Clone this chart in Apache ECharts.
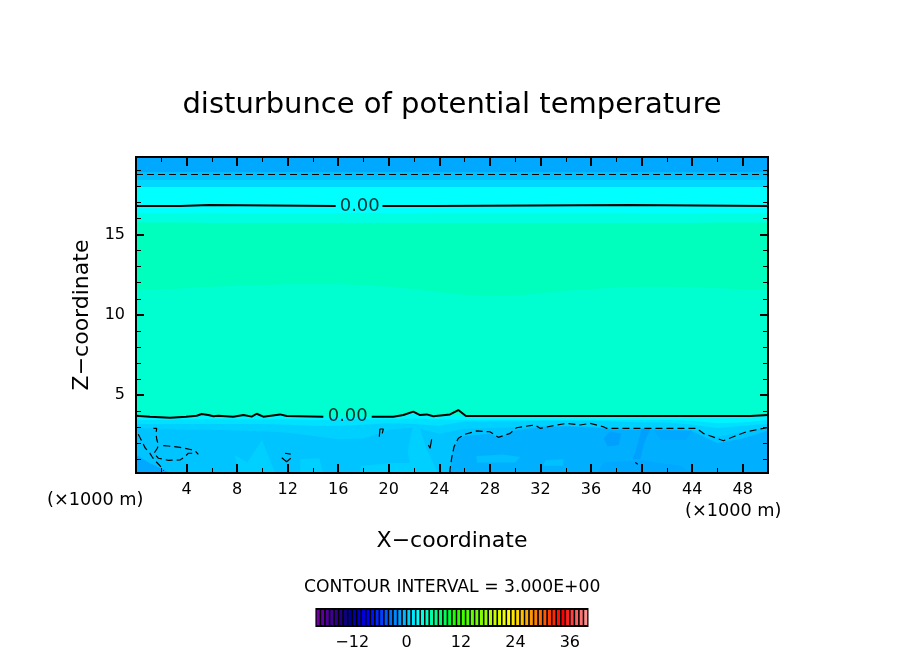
<!DOCTYPE html>
<html>
<head>
<meta charset="utf-8">
<style>html,body{margin:0;padding:0;background:#fff}#chart{width:904px;height:654px}</style>
<script src="https://cdn.jsdelivr.net/npm/echarts@6/dist/echarts.min.js"></script>
</head>
<body>
<div id="chart"></div>
<script>
var xTicksMajor = [4, 8, 12, 16, 20, 24, 28, 32, 36, 40, 44, 48];
var xTicksMinor = [2, 6, 10, 14, 18, 22, 26, 30, 34, 38, 42, 46];
var zTicksMajor = [5, 10, 15];
var zTicksMinor = [1, 2, 3, 4, 6, 7, 8, 9, 11, 12, 13, 14, 16, 17, 18, 19];
var colorbarTicks = [-12, 0, 12, 24, 36];

// band tops, one height every 2 km from x=0 to x=50
var xSamples = [0, 2, 4, 6, 8, 10, 12, 14, 16, 18, 20, 22, 24, 26, 28, 30, 32, 34, 36, 38, 40, 42, 44, 46, 48, 50];
var bandTop     = [19.83, 19.83, 19.83, 19.83, 19.83, 19.83, 19.83, 19.83, 19.83, 19.83, 19.83, 19.83, 19.83, 19.83, 19.83, 19.83, 19.83, 19.83, 19.83, 19.83, 19.83, 19.83, 19.83, 19.83, 19.83, 19.83];
var band18_9    = [18.89, 18.89, 18.89, 18.89, 18.89, 18.89, 18.89, 18.89, 18.89, 18.89, 18.89, 18.89, 18.89, 18.89, 18.89, 18.89, 18.89, 18.89, 18.89, 18.89, 18.89, 18.89, 18.89, 18.89, 18.89, 18.89];
var band18_4    = [18.39, 18.39, 18.39, 18.39, 18.39, 18.39, 18.39, 18.39, 18.39, 18.39, 18.39, 18.39, 18.39, 18.39, 18.39, 18.39, 18.39, 18.39, 18.39, 18.39, 18.39, 18.39, 18.39, 18.39, 18.39, 18.39];
var band18_0    = [17.96, 17.96, 17.96, 17.96, 17.96, 17.96, 17.96, 17.96, 17.96, 17.96, 17.96, 17.96, 17.96, 17.96, 17.96, 17.96, 17.96, 17.96, 17.96, 17.96, 17.96, 17.96, 17.96, 17.96, 17.96, 17.96];
var band16_3    = [16.34, 16.34, 16.36, 16.36, 16.34, 16.34, 16.34, 16.34, 16.34, 16.34, 16.34, 16.34, 16.36, 16.36, 16.36, 16.36, 16.36, 16.36, 16.36, 16.36, 16.34, 16.34, 16.34, 16.34, 16.34, 16.34];
var band15_7    = [15.75, 15.75, 15.75, 15.72, 15.72, 15.72, 15.72, 15.72, 15.72, 15.72, 15.72, 15.72, 15.72, 15.72, 15.72, 15.72, 15.72, 15.72, 15.72, 15.72, 15.72, 15.72, 15.72, 15.75, 15.75, 15.75];
var band11_7    = [11.55, 11.6, 11.65, 11.75, 11.8, 11.85, 11.9, 11.9, 11.9, 11.85, 11.75, 11.6, 11.4, 11.25, 11.15, 11.2, 11.35, 11.5, 11.6, 11.7, 11.75, 11.75, 11.7, 11.65, 11.6, 11.55];
var bandCyan    = [3.72, 3.66, 3.66, 3.76, 3.68, 3.72, 3.7, 3.66, 3.66, 3.66, 3.66, 3.9, 3.72, 3.7, 3.7, 3.7, 3.7, 3.7, 3.7, 3.7, 3.7, 3.7, 3.7, 3.7, 3.72, 3.72];
var bandLight   = [3.45, 3.45, 3.5, 3.5, 3.5, 3.5, 3.5, 3.45, 3.45, 3.5, 3.5, 3.55, 3.5, 3.45, 3.45, 3.45, 3.45, 3.45, 3.45, 3.45, 3.45, 3.45, 3.4, 3.25, 3.3, 3.45];
var bandMid     = [3.2, 3.2, 3.2, 3.2, 3.2, 3.2, 3.15, 3.1, 3.1, 3.15, 3.25, 3.2, 3.1, 3.35, 3.35, 3.35, 3.4, 3.4, 3.4, 3.35, 3.3, 3.3, 3.15, 2.95, 3.1, 3.2];
var bandDeep    = [2.95, 2.9, 2.85, 2.85, 2.8, 2.75, 2.65, 2.45, 2.25, 2.3, 2.85, 3.0, 2.6, 2.9, 2.95, 3.0, 3.1, 3.1, 3.05, 2.95, 2.9, 2.95, 2.85, 2.4, 2.7, 3.0];
var bandDark    = [[0, 0.15], [24.7, 0.15], [24.84, 0.34], [24.97, 1.07], [25.16, 1.79], [25.5, 2.25], [26, 2.45], [28, 2.6], [28.7, 2.35], [30, 2.8], [32, 3.0], [34, 3.05], [36, 3.0], [38, 2.85], [40, 2.85], [42, 2.85], [44, 2.75], [46, 2.0], [48, 2.3], [50, 2.8]];

// patches of the same palette that sit inside the lower bands
var lightWedgeA  = [[7.8, 1.27], [8.8, 0.8], [9.97, 2.2], [10.6, 0.96], [11, 0.15], [8.2, 0.15]];
var lightWedgeB  = [[21.9, 3.1], [21.5, 1.5], [21.8, 0.15], [23.9, 0.15], [23, 1.6], [22.4, 3.1]];
var lightFloorA  = [[13, 0.15], [13, 1], [14.5, 1.07], [14.8, 0.15]];
var lightFloorB  = [[17.7, 0.15], [17.8, 0.6], [20, 0.75], [23, 0.8], [23.3, 0.15]];
var paleRightA   = [[27, 0.8], [26.9, 1.2], [29, 1.3], [30.4, 1.15], [30, 0.8]];
var paleRightB   = [[32.2, 0.6], [32.4, 0.95], [33.8, 1], [33.8, 0.6]];
var darkStreak   = [[39.3, 1], [39.7, 2], [40, 2.9], [40.7, 2.9], [40.2, 2], [39.9, 1]];
var darkBlob     = [[37, 2.3], [37.5, 2.75], [38.4, 2.6], [38.2, 1.9], [37.3, 1.8]];
var darkFloor    = [[36.5, 0.15], [37, 0.8], [40, 0.95], [43, 0.6], [44, 0.15]];
var darkCorner   = [[0, 0.15], [0, 1.3], [1, 0.8], [2.7, 0.15]];
var darkRight    = [[41, 2.8], [41.5, 2.2], [43.5, 2.2], [44, 2.8]];

// contour lines, null breaks the line where the label sits
var zeroUpper = [[0, 16.78], [3.5, 16.78], [3.51, 16.84], [5.8, 16.84], [5.81, 16.78], [15.8, 16.78], null,
  [19.5, 16.78], [23.6, 16.78], [23.61, 16.84], [39, 16.84], [39.01, 16.78], [50, 16.78]];
var zeroLower = [[0, 3.72], [1.1, 3.66], [2.7, 3.59], [3.96, 3.66], [4.8, 3.72], [5.2, 3.82], [5.72, 3.76], [6.12, 3.68], [6.5, 3.72],
  [7.7, 3.66], [8.5, 3.76], [9.15, 3.66], [9.55, 3.84], [10.07, 3.66], [11.4, 3.8], [11.92, 3.7], [14.82, 3.66], null,
  [18.65, 3.66], [20.36, 3.66], [21.15, 3.76], [21.94, 3.97], [22.47, 3.76], [23, 3.8], [23.52, 3.68], [24.84, 3.8], [25.5, 4.07],
  [26.1, 3.7], [48.6, 3.7], [48.7, 3.76], [50, 3.76]];
var dashedTop = [[0, 18.74], [50, 18.74]];
var dashedRight = [[24.84, 0.15], [24.84, 0.34], [24.97, 1.07], [25.16, 1.79], [25.5, 2.31], [26.03, 2.56], [26.95, 2.77], [28, 2.72], [28.67, 2.37],
  [29.6, 2.62], [30.1, 2.97], [31.17, 3.1], [31.57, 3.14], [31.96, 2.93], [33.3, 3.14], [34.07, 3.24], [35.13, 3.14], [35.92, 3.24],
  [36.97, 3.03], [37.24, 2.93], [44.36, 2.93], [44.88, 2.62], [45.94, 2.31], [46.47, 2.16], [47.26, 2.41], [48.31, 2.72], [49.63, 2.93], [50, 2.99]];
var dashedLeftA = [[0.18, 2.56], [0.74, 1.69], [1.05, 1.44], [1.32, 1.1], [1.53, 0.9], [1.9, 0.6], [2.2, 0.3]];
var dashedLeftB = [[1.37, 2.93], [1.64, 2.93], [1.58, 2.62], [1.64, 2.25], [1.77, 1.89], [1.69, 1.69], [1.42, 1.38], [1.77, 1.07], [2.56, 0.94], [3.48, 0.96], [3.88, 1.17], [4.14, 1.38], [4.48, 1.38]];
var dashedLeftC = [[2.16, 1.85], [2.56, 1.83], [3.48, 1.75], [4.22, 1.63], [4.67, 1.54], [4.93, 1.31]];
var dashedCircle = [[11.53, 1.1], [11.92, 0.85], [12.24, 1.07], null, [11.79, 1.38], [12.24, 1.33]];
var dashedSmallA = [[19.25, 2.41], [19.3, 2.89], [19.57, 2.89], [19.48, 2.62]];
var dashedSmallB = [[23.13, 1.89], [23.26, 1.69], [23.39, 2.25]];
var dashedSmallC = [[39.5, 0.8], [39.7, 0.7]];
var contourLabels = [[17.7, 16.75], [16.75, 3.66]];

var colorbarStart = -20;
var colorbarColors = ['#7000a0', '#6000a0', '#500098', '#400090', '#300088', '#200080', '#100080', '#000090', '#0000a8', '#0000c0',
  '#0000d8', '#0000f0', '#0010ff', '#0028ff', '#0040ff', '#0058ff', '#0070ff', '#0088ff', '#00a0ff', '#00b8ff',
  '#00d0ff', '#00e8ff', '#00ffff', '#00ffe0', '#00ffc4', '#00ffa8', '#00ff8c', '#00ff70', '#00ff54', '#00ff38',
  '#20ff00', '#30ff00', '#40ff00', '#50ff00', '#60ff00', '#70ff00', '#80ff00', '#98ff00', '#b0ff00', '#c8ff00',
  '#e0ff00', '#f0ff00', '#ffff00', '#ffe800', '#ffd800', '#ffc000', '#ffa800', '#ff9800', '#ff8000', '#ff6c00',
  '#ff5800', '#ff4000', '#ff2800', '#ff1000', '#ff0000', '#ff2020', '#ff4040', '#ff6060', '#ff7070', '#ff9090'];

var fontName = 'DejaVu Sans';
var myChart = echarts.init(document.getElementById('chart'));

function bandSeries(heights, color) {
	return {
		type: 'line', xAxisIndex: 0, yAxisIndex: 0, symbol: 'none', silent: true, animation: false,
		data: Array.isArray(heights[0]) ? heights : xSamples.map(function(x, i) { return [x, heights[i]]; }),
		lineStyle: {width: 0}, areaStyle: {color: color, opacity: 1, origin: 'start'}
	};
}

function patchSeries(points, color) {
	return {
		type: 'custom', xAxisIndex: 0, yAxisIndex: 0, silent: true, animation: false, z: 3,
		data: [points[0]],
		encode: {x: 0, y: 1},
		renderItem: function(params, api) {
			return {type: 'polygon', shape: {points: points.map(function(p) { return api.coord(p); })}, style: {fill: color}};
		}
	};
}

function contourSeries(points, width, dashed) {
	return {
		type: 'line', xAxisIndex: 0, yAxisIndex: 0, symbol: 'none', silent: true, animation: false, z: 5,
		data: points.map(function(p) { return p === null ? [null, null] : p; }),
		lineStyle: {color: '#000', width: width, type: dashed ? [7, 4] : 'solid'}
	};
}

// frame and ticks; each side has a major and a minor axis, on two stacked grids
function xAxisFor(gridIndex, position, ticks, length, width, labels) {
	return {
		type: 'value', gridIndex: gridIndex, position: position, min: 0, max: 50, z: 10,
		splitLine: {show: false},
		axisLine: {show: true, onZero: false, lineStyle: {color: '#000', width: 2}},
		axisTick: {show: true, inside: true, customValues: ticks, length: length, lineStyle: {color: '#000', width: width}},
		axisLabel: labels ? {customValues: ticks, color: '#000', fontFamily: fontName, fontSize: 16, margin: 9} : {show: false}
	};
}

function zAxisFor(gridIndex, position, ticks, length, width, labels) {
	return {
		type: 'value', gridIndex: gridIndex, position: position, min: 0.15, max: 19.83, z: 10,
		splitLine: {show: false},
		axisLine: {show: true, onZero: false, lineStyle: {color: '#000', width: 2}},
		axisTick: {show: true, inside: true, customValues: ticks, length: length, lineStyle: {color: '#000', width: width}},
		axisLabel: labels ? {customValues: ticks, color: '#000', fontFamily: fontName, fontSize: 16, margin: 11} : {show: false}
	};
}

var plotGrid = {left: 136, top: 157, width: 632, height: 316};
var xMain = xAxisFor(0, 'bottom', xTicksMajor, 9, 2, true);
var zMain = zAxisFor(0, 'left', zTicksMajor, 8, 2, true);
xMain.name = 'X\u2212coordinate';
xMain.nameLocation = 'middle';
xMain.nameGap = 57;
xMain.nameTextStyle = {color: '#000', fontFamily: fontName, fontSize: 22};
zMain.name = 'Z\u2212coordinate';
zMain.nameLocation = 'middle';
zMain.nameGap = 39;
zMain.nameTextStyle = {color: '#000', fontFamily: fontName, fontSize: 22};

var series = [
	bandSeries(bandTop, '#00a8ff'),
	bandSeries(band18_9, '#00c0ff'),
	bandSeries(band18_4, '#00d8ff'),
	bandSeries(band18_0, '#00ffff'),
	bandSeries(band16_3, '#00ffe0'),
	bandSeries(band15_7, '#00ffbc'),
	bandSeries(band11_7, '#00ffd0'),
	bandSeries(bandCyan, '#00f4ff'),
	bandSeries(bandLight, '#00e0ff'),
	bandSeries(bandMid, '#00d0ff'),
	bandSeries(bandDeep, '#00c4ff'),
	bandSeries(bandDark, '#00b0ff'),
	patchSeries(lightWedgeA, '#00d0ff'),
	patchSeries(lightWedgeB, '#00d0ff'),
	patchSeries(lightFloorA, '#00d0ff'),
	patchSeries(lightFloorB, '#00d0ff'),
	patchSeries(paleRightA, '#00c0ff'),
	patchSeries(paleRightB, '#00c0ff'),
	patchSeries(darkStreak, '#00a0ff'),
	patchSeries(darkBlob, '#00a0ff'),
	patchSeries(darkFloor, '#00a8ff'),
	patchSeries(darkCorner, '#00a8ff'),
	patchSeries(darkRight, '#00a8ff'),
	contourSeries(zeroUpper, 2, false),
	contourSeries(zeroLower, 2, false),
	contourSeries(dashedTop, 1, true),
	contourSeries(dashedRight, 1.2, true),
	contourSeries(dashedLeftA, 1.2, true),
	contourSeries(dashedLeftB, 1.2, true),
	contourSeries(dashedLeftC, 1.2, true),
	contourSeries(dashedCircle, 1.2, false),
	contourSeries(dashedSmallA, 1.2, false),
	contourSeries(dashedSmallB, 1.2, false),
	contourSeries(dashedSmallC, 1.2, false),
	{
		type: 'scatter', xAxisIndex: 0, yAxisIndex: 0, symbolSize: 0, silent: true, animation: false, z: 6,
		data: contourLabels,
		label: {show: true, position: 'inside', formatter: '0.00', color: '#000', fontFamily: fontName, fontSize: 18}
	},
	{
		type: 'custom', xAxisIndex: 4, yAxisIndex: 4, silent: true, animation: false, clip: false,
		data: colorbarColors.map(function(c, i) { return [colorbarStart + i, c]; }),
		encode: {x: 0},
		renderItem: function(params, api) {
			var v = api.value(0);
			var a = api.coord([v, 1]);
			var b = api.coord([v + 1, 0]);
			var w = b[0] - a[0];
			var h = b[1] - a[1];
			return {
				type: 'group',
				children: [
					{type: 'rect', shape: {x: a[0] - 0.5, y: a[1], width: w + 1, height: h}, style: {fill: '#000'}},
					{type: 'rect', shape: {x: a[0] + 0.75, y: a[1] + 2, width: w - 1.5, height: h - 4}, style: {fill: colorbarColors[params.dataIndex]}}
				]
			};
		}
	}
];

myChart.setOption({
	backgroundColor: '#fff',
	animation: false,
	title: {
		text: 'disturbunce of potential temperature', left: 447, top: 86, textAlign: 'center',
		textStyle: {color: '#000', fontFamily: fontName, fontWeight: 'normal', fontSize: 29}
	},
	grid: [plotGrid, plotGrid, {left: 315, top: 608, width: 273, height: 19}],
	xAxis: [
		xMain,
		xAxisFor(0, 'top', xTicksMajor, 9, 2, false),
		xAxisFor(1, 'bottom', xTicksMinor, 5, 1, false),
		xAxisFor(1, 'top', xTicksMinor, 5, 1, false),
		{
			type: 'value', gridIndex: 2, min: -20.2, max: 40, position: 'bottom', z: 10,
			splitLine: {show: false}, axisLine: {show: false, onZero: false}, axisTick: {show: false},
			axisLabel: {
				customValues: colorbarTicks, color: '#000', fontFamily: fontName, fontSize: 16, margin: 8,
				formatter: function(v) { return String(v).replace('-', '\u2212'); }
			}
		}
	],
	yAxis: [
		zMain,
		zAxisFor(0, 'right', zTicksMajor, 8, 2, false),
		zAxisFor(1, 'left', zTicksMinor, 5, 1, false),
		zAxisFor(1, 'right', zTicksMinor, 5, 1, false),
		{type: 'value', gridIndex: 2, min: 0, max: 1, show: false}
	],
	graphic: [
		{type: 'text', left: 47, top: 491, style: {text: '(\u00d71000 m)', fill: '#000', font: '17.7px "DejaVu Sans"'}},
		{type: 'text', left: 685, top: 502, style: {text: '(\u00d71000 m)', fill: '#000', font: '17.7px "DejaVu Sans"'}},
		{type: 'text', left: 304, top: 579, style: {text: 'CONTOUR INTERVAL = 3.000E+00', fill: '#000', font: '17.2px "DejaVu Sans"'}}
	],
	series: series
});

window.onresize = function() {
	myChart.resize();
};
</script>
</body>
</html>
